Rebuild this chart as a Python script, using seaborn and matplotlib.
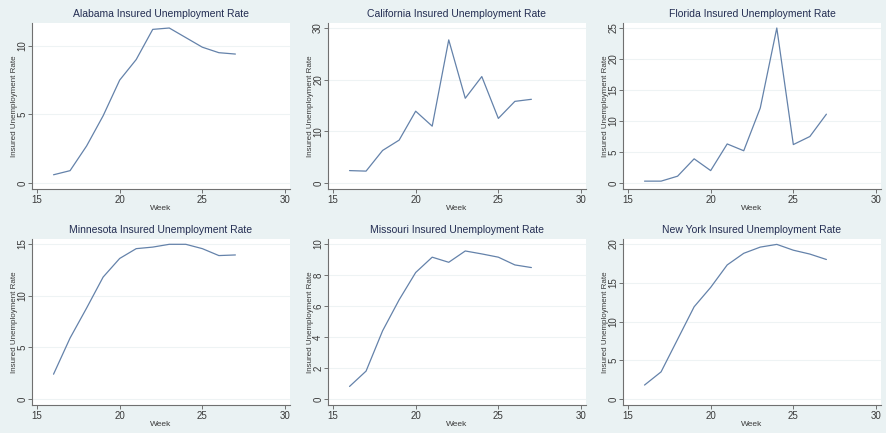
import matplotlib
matplotlib.use("Agg")
import matplotlib.pyplot as plt
import numpy as np
import pandas as pd
import seaborn as sns

# Weekly insured unemployment rate by state
weeks = [16, 17, 18, 19, 20, 21, 22, 23, 24, 25, 26, 27]
alabama = [0.6, 0.9, 2.7, 4.9, 7.5, 9.0, 11.2, 11.3, 10.6, 9.9, 9.5, 9.4]
california = [2.4, 2.3, 6.3, 8.3, 13.9, 11.0, 27.7, 16.4, 20.6, 12.5, 15.8, 16.2]
florida = [0.3, 0.3, 1.1, 3.9, 2.0, 6.3, 5.2, 12.1, 25.0, 6.2, 7.5, 11.1]
minnesota = [2.4, 5.9, 8.8, 11.8, 13.6, 14.55, 14.7, 14.97, 14.97, 14.55, 13.88, 13.94]
missouri = [0.81, 1.8, 4.4, 6.4, 8.16, 9.15, 8.82, 9.55, 9.36, 9.15, 8.65, 8.48]
new_york = [1.8, 3.5, 7.7, 11.9, 14.4, 17.3, 18.8, 19.6, 19.95, 19.2, 18.7, 18.0]

states = ["Alabama", "California", "Florida", "Minnesota", "Missouri", "New York"]
series = [alabama, california, florida, minnesota, missouri, new_york]
y_ticks = [
    [0, 5, 10],
    [0, 10, 20, 30],
    [0, 5, 10, 15, 20, 25],
    [0, 5, 10, 15],
    [0, 2, 4, 6, 8, 10],
    [0, 5, 10, 15, 20],
]
x_ticks = [15, 20, 25, 30]

df = pd.concat(
    [pd.DataFrame({"Week": weeks, "rate": vals, "state": st}) for st, vals in zip(states, series)],
    ignore_index=True,
)

sns.set_theme(style="white")
plt.rcParams["font.family"] = ["Liberation Sans", "DejaVu Sans"]

BG = "#EAF2F3"
LINE = "#6482AA"
AXIS = "#707070"
TITLE = "#232D52"
TEXT = "#3A3A3A"

W, H = 886, 433
fig = plt.figure(figsize=(W / 100, H / 100), dpi=100, facecolor=BG)

lefts = [32, 328, 623]
tops = [23, 239]
aw, ah = 258, 166

for i, (st, ticks) in enumerate(zip(states, y_ticks)):
    r, c = divmod(i, 3)
    left = lefts[c]
    top = tops[r]
    ax = fig.add_axes([left / W, (H - top - ah) / H, aw / W, ah / H])
    ax.set_facecolor("white")

    sub = df[df["state"] == st]
    sns.lineplot(data=sub, x="Week", y="rate", ax=ax, color=LINE, linewidth=0.9)

    # x scale: ticks 15..30 inset a few pixels from the plot-region edges
    px_x = (aw - 10) / 15.0
    ax.set_xlim(15 - 5 / px_x, 30 + 5 / px_x)
    # y scale: range covers ticks and data, with small pixel margins
    top_val = max(max(ticks), max(sub["rate"]))
    span_px = ah - 11
    u = top_val / span_px
    ax.set_ylim(0 - 6 * u, top_val + 5 * u)

    ax.set_xticks(x_ticks)
    ax.set_yticks(ticks)
    ax.set_yticklabels([str(t) for t in ticks], rotation=90, va="center")
    ax.yaxis.grid(True, color="#EEF3F4", linewidth=0.8)
    ax.xaxis.grid(False)

    for s in ["top", "right"]:
        ax.spines[s].set_visible(False)
    for s in ["left", "bottom"]:
        ax.spines[s].set_color(AXIS)
        ax.spines[s].set_linewidth(0.8)

    ax.tick_params(axis="both", which="major", direction="out", length=3, width=0.7,
                   color=AXIS, labelsize=7, labelcolor=TEXT, bottom=True, left=True)
    ax.tick_params(axis="x", pad=1)
    ax.tick_params(axis="y", pad=0.5)

    ax.set_xlabel("Week", fontsize=6, color=TEXT, labelpad=0)
    ax.set_ylabel("Insured Unemployment Rate", fontsize=5.8, color=TEXT)
    ax.yaxis.set_label_coords(-14 / aw, 0.5)
    ax.set_title(f"{st} Insured Unemployment Rate", fontsize=7.5, color=TITLE, pad=4)

fig.savefig("out.png", dpi=100, facecolor=BG)
